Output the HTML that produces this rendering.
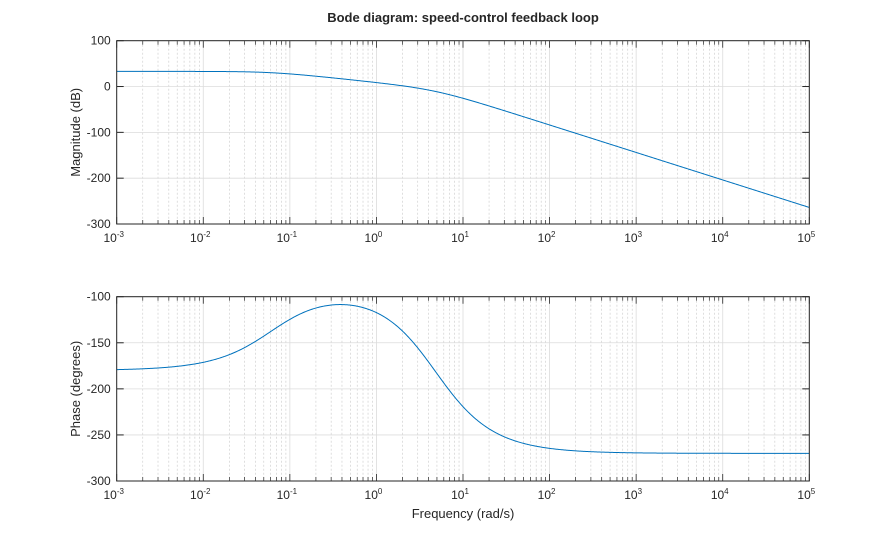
<!DOCTYPE html>
<html><head><meta charset="utf-8"><style>
body{margin:0;background:#fff}
svg{font-family:"Liberation Sans",Arial,sans-serif}
</style></head><body>
<svg id="s" width="895" height="540" xmlns="http://www.w3.org/2000/svg"></svg>
<script>
const S=document.getElementById('s');let h='';
const L=116.7,R=809.3,dx=(R-L)/8;
const X=w=>L+(Math.log10(w)+3)*dx;
const axes=[{t:40.7,b:224,lo:-300,hi:100,st:100},{t:296.7,b:481,lo:-300,hi:-100,st:50}];
const P=0.063,A2=4.77;
function mag(w){return 33+20*Math.log10(P)-10*Math.log10(w*w+P*P)-20*Math.log10(1+(w/A2)**2);}
function ph(w){return -180+Math.atan(w/P)*180/Math.PI-2*Math.atan(w/A2)*180/Math.PI;}
axes.forEach((A,i)=>{
 const Y=v=>A.t+(A.hi-v)/(A.hi-A.lo)*(A.b-A.t);
 for(let d=-3;d<5;d++)for(let k=2;k<10;k++){const x=X(k*10**d);h+=`<line x1="${x}" y1="${A.t}" x2="${x}" y2="${A.b}" stroke="#c8c8c8" stroke-width="0.6" stroke-dasharray="2,2"/>`;
 h+=`<line x1="${x}" y1="${A.b}" x2="${x}" y2="${A.b-4}" stroke="#262626" stroke-width="0.7"/><line x1="${x}" y1="${A.t}" x2="${x}" y2="${A.t+4}" stroke="#262626" stroke-width="0.7"/>`;}
 for(let d=-3;d<=5;d++){const x=X(10**d);h+=`<line x1="${x}" y1="${A.t}" x2="${x}" y2="${A.b}" stroke="#dcdcdc" stroke-width="0.8"/><line x1="${x}" y1="${A.b}" x2="${x}" y2="${A.b-7}" stroke="#262626" stroke-width="0.8"/><line x1="${x}" y1="${A.t}" x2="${x}" y2="${A.t+7}" stroke="#262626" stroke-width="0.8"/>`;
 h+=`<text x="${x-3}" y="${A.b+18}" font-size="12" text-anchor="middle" fill="#262626">10<tspan font-size="8" dy="-5">${d}</tspan></text>`;}
 for(let v=A.lo;v<=A.hi;v+=A.st){const y=Y(v);h+=`<line x1="${L}" y1="${y}" x2="${R}" y2="${y}" stroke="#dcdcdc" stroke-width="0.8"/><line x1="${L}" y1="${y}" x2="${L+7}" y2="${y}" stroke="#262626"/><line x1="${R}" y1="${y}" x2="${R-7}" y2="${y}" stroke="#262626"/>`;
 h+=`<text x="${L-6}" y="${y+4}" font-size="12" text-anchor="end" fill="#262626">${v}</text>`;}
 let p='';for(let j=0;j<=800;j++){const w=10**(-3+8*j/800);const v=i?ph(w):mag(w);p+=(j?'L':'M')+X(w).toFixed(2)+','+Y(v).toFixed(2);}
 h+=`<path d="${p}" fill="none" stroke="#0072bd" stroke-width="1"/>`;
 h+=`<rect x="${L}" y="${A.t}" width="${R-L}" height="${A.b-A.t}" fill="none" stroke="#262626" stroke-width="1"/>`;
 const cy=(A.t+A.b)/2;h+=`<text transform="translate(80,${cy}) rotate(-90)" font-size="13" text-anchor="middle" fill="#262626">${i?'Phase (degrees)':'Magnitude (dB)'}</text>`;
});
h+=`<text x="463" y="22" font-size="13" font-weight="bold" text-anchor="middle" fill="#262626">Bode diagram: speed-control feedback loop</text>`;
h+=`<text x="463" y="518" font-size="13" text-anchor="middle" fill="#262626">Frequency (rad/s)</text>`;
S.innerHTML=h;
</script>
</body></html>
